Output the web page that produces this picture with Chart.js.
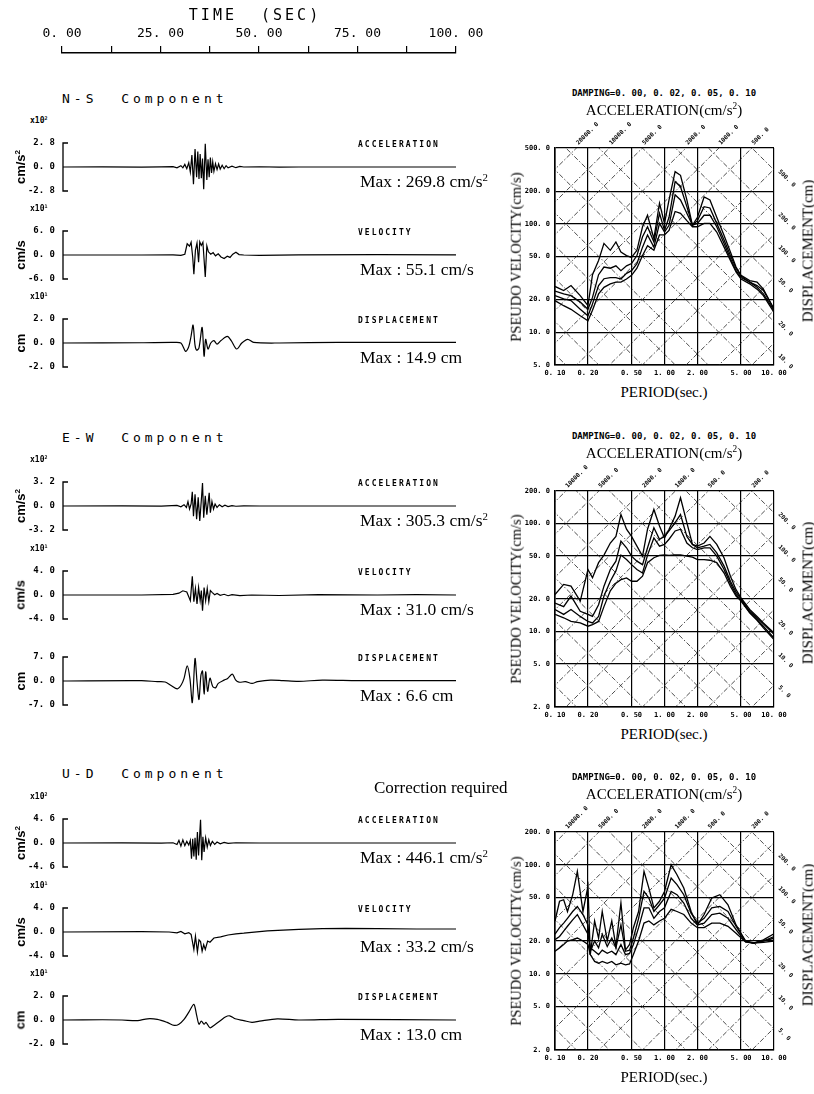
<!DOCTYPE html>
<html>
<head>
<meta charset="utf-8">
<title>Strong motion record</title>
<script src="https://cdn.jsdelivr.net/npm/chart.js@4.4.1/dist/chart.umd.min.js"></script>
<style>
  body { margin:0; width:814px; height:1094px; position:relative; overflow:hidden; background:#fff; color:#000; }
  canvas { position:absolute; }
  .t { position:absolute; white-space:nowrap; line-height:1; }
  .mono { font-family:"DejaVu Sans Mono", monospace; }
  .serif { font-family:"Liberation Serif", serif; }
  .sans { font-family:"Liberation Sans", sans-serif; font-weight:bold; }
  sup { font-size:0.62em; vertical-align:0.55em; line-height:0; }
</style>
</head>
<body>
<script>
// time axis ticks (sec)
const timeTicks = [0, 12.5, 25, 37.5, 50, 62.5, 75, 87.5, 100];

// time histories: [time (s), value in axis units]
const nsAcc = [[0,0],[10,0.02],[20,-0.02],[25,0.02],[28,0.05],[29,-0.1],[30,0.15],[30.5,-0.1],[31,0.3],[31.5,-0.2],[32,0.5],[32.4,-0.6],[32.8,1.4],[33.2,-2.0],[33.6,2.1],[34.0,-1.2],[34.3,1.8],[34.6,-1.4],[34.9,1.5],[35.2,-1.3],[35.5,1.0],[35.8,-2.6],[36.2,2.7],[36.6,-1.5],[36.9,0.9],[37.2,-1.2],[37.5,1.1],[37.8,-0.7],[38.1,0.6],[38.4,-0.5],[38.8,0.4],[39.2,-0.3],[39.6,0.35],[40,-0.25],[40.5,0.2],[41,-0.2],[41.5,0.15],[42,-0.1],[43,0.1],[44,-0.08],[45,0.06],[46,0],[50,0.03],[55,-0.02],[60,0],[100,0]];
const nsVel = [[0,0],[20,0],[28,0.05],[30,-0.1],[31,0.2],[31.6,2.8],[32.2,2.2],[32.6,3.2],[33.0,-0.5],[33.3,-4.8],[33.7,1.2],[34.1,3.0],[34.5,-1.8],[34.8,3.3],[35.2,2.4],[35.6,3.2],[36.2,-5.5],[36.6,2.3],[37.0,0.8],[37.6,0.2],[38.2,0.6],[38.8,-0.2],[39.5,0.3],[40.2,-0.5],[41,-0.9],[41.8,-0.3],[42.5,-0.6],[43.2,0.2],[44,0.7],[44.8,0.1],[46,0],[50,-0.1],[60,0.05],[80,0.1],[100,0.05]];
const nsDis = [[0,0],[20,0.02],[28,0.05],[30,0],[31.2,-0.7],[32.0,-0.3],[32.6,0.6],[33.1,1.49],[33.6,-0.2],[34.0,-0.6],[34.6,-0.4],[35.4,1.3],[35.9,-1.1],[36.3,0.3],[36.9,-0.5],[37.6,0],[38.4,0.2],[39.2,-0.1],[40.2,0.2],[41.8,0.55],[42.8,0.2],[44.2,-0.5],[45.5,0],[47,0.3],[48.5,0.05],[55,0],[70,0.05],[100,0.05]];

const ewAcc = [[0,0],[15,0.02],[25,-0.02],[29,0.07],[30,-0.1],[30.8,0.17],[31.4,-0.2],[31.8,0.6],[32.2,-0.4],[32.6,0.27],[32.9,1.9],[33.2,-1.35],[33.6,1.55],[34.0,-1.75],[34.4,1.15],[34.8,-2.0],[35.2,0.8],[35.5,3.05],[35.8,-1.55],[36.2,1.35],[36.6,-1.15],[37.0,0.8],[37.2,1.75],[37.5,-0.9],[37.9,0.6],[38.3,-0.4],[38.7,0.27],[39.2,-0.2],[39.8,0.17],[40.5,-0.1],[41.2,0.1],[42,-0.07],[43,0.05],[44,-0.03],[46,0.02],[50,0],[100,0]];
const ewVel = [[0,0],[20,0],[28,0.1],[29.5,0.3],[30.5,0.7],[31.5,0.5],[32.0,-0.3],[32.4,-0.95],[32.9,3.1],[33.3,-1.1],[33.7,1.1],[34.1,-1.5],[34.5,1.25],[34.9,-0.95],[35.2,0.75],[35.5,-2.6],[35.9,1.25],[36.3,-0.95],[36.7,1.1],[37.1,-1.1],[37.5,0.75],[38,0.4],[38.6,0.05],[39.2,0.25],[40,-0.05],[41,0.12],[42,-0.12],[43,0.05],[45,-0.1],[48,0],[55,-0.08],[65,0.05],[80,0],[90,0.05],[100,0]];
const ewDis = [[0,0],[20,0.1],[24,-0.2],[26,-0.3],[27.5,-1.3],[29.1,-2.3],[30.1,-1.1],[30.8,0.75],[31.6,4.4],[32.3,0.7],[32.9,-6.3],[33.6,6.6],[34.1,-0.2],[34.6,-5.4],[35.1,1.7],[35.5,2.9],[35.9,-3.8],[36.3,2.7],[36.8,-3.0],[37.4,0.85],[38.1,-1.6],[38.8,-2.0],[39.5,-0.7],[41,0.25],[41.9,0.75],[43.1,2.0],[43.9,0.35],[44.8,-0.35],[46.4,-0.2],[48.1,-0.7],[49.5,-0.2],[52.8,0.25],[56,0.1],[60,-0.1],[66,0.25],[75,0.1],[100,0.1]];

const udAcc = [[0,0],[15,0.02],[25,-0.03],[28,0.05],[29,-0.3],[29.5,0.5],[30,-0.6],[30.5,0.6],[31,-0.5],[31.5,0.3],[32,-0.4],[32.4,0.5],[32.7,-3.0],[33.0,0.8],[33.3,-2.6],[33.6,1.0],[33.9,-3.2],[34.2,2.1],[34.5,-2.4],[34.8,1.8],[35.0,4.46],[35.3,-3.3],[35.6,1.2],[35.9,-1.7],[36.3,1.0],[36.7,-0.8],[37.1,0.6],[37.5,-0.5],[38,0.3],[38.6,-0.25],[39.2,0.2],[40,-0.15],[41,0.1],[42,-0.08],[44,0.05],[50,0],[100,0]];
const udVel = [[0,0],[20,0.05],[27,0],[29,-0.15],[30,0.1],[31,-0.3],[32,-0.1],[32.6,-0.4],[33.3,-2.9],[33.7,-0.7],[34.2,-3.32],[34.6,-1.3],[35.0,-1.6],[35.4,-3.2],[35.8,-2.1],[36.2,-2.9],[36.8,-1.5],[37.4,-1.7],[38.4,-1.0],[40.1,-0.8],[42,-0.5],[44,-0.3],[46,-0.2],[48,-0.05],[52,0.2],[56,0.3],[60,0.45],[66,0.55],[72,0.6],[80,0.55],[90,0.5],[100,0.5]];
const udDis = [[0,0],[10,0.02],[15,0],[19,-0.05],[21.5,0.1],[24,0.05],[26.5,-0.2],[28.3,-0.45],[29.5,-0.35],[30.8,0.05],[32.1,0.7],[33.3,1.3],[34.0,0.4],[34.6,-0.35],[35.2,-0.1],[35.9,-0.35],[36.4,-0.2],[37.4,-0.65],[38.4,-0.45],[40.1,-0.05],[41.3,0.25],[42.4,0.35],[43.8,0.1],[46,-0.05],[48.1,-0.2],[50,-0.1],[54.5,0.1],[60,0],[70,0.05],[100,0]];

// response spectra (period s -> pseudo velocity cm/s), damping 0, 0.02, 0.05, 0.10
const periodTicks = [0.1, 0.2, 0.5, 1, 2, 5, 10];
const periodsH = [0.10,0.12,0.14,0.17,0.20,0.22,0.25,0.28,0.32,0.36,0.40,0.45,0.50,0.56,0.63,0.70,0.80,0.90,1.0,1.1,1.25,1.4,1.6,1.8,2.0,2.3,2.6,3.0,3.5,4.0,4.5,5.0,6.0,7.0,8.0,10.0];
const nsSv0  = [26.5,24.3,27,21.8,17.6,34,46,66,57,68,55,51,49,57,94,120,73,155,101,166,303,280,166,97,115,177,166,115,78,55,40,33.5,30,29,25,16.4];
const nsSv2  = [24,22.6,21.8,19,16.3,21,34,40,39,41,37,41,43,51,76,94,68,125,87,115,245,220,144,97,107,144,140,101,71,51,39,33,29,27,24.3,16.4];
const nsSv5  = [21.8,20.3,19.6,16.3,14.2,18.3,27,31.2,32,32,31,35,37,43,61,79,61,101,84,97,185,166,125,97,101,120,120,94,66,48,37,32,29,26,22.6,15.9];
const nsSv10 = [19.6,17.6,16.3,14.2,12.8,16,22.6,26,28,29,29,31,33.5,39,51,63,57,79,79,87,130,125,107,94,94,101,101,84,61,46,36,31,28,25,21.8,15.3];

const ewSv0  = [22,27.3,26.3,19.1,37.5,31.4,43.4,51,66,76,121,88.6,76,61.7,49.9,88.6,135,95,73.5,88.6,117,173,102,64,61.7,66,76,64,48,32.5,24.4,20.5,16,13.8,12,9.7];
const ewSv2  = [18.3,17,21.3,15.4,14.4,13.8,17.7,26.3,37.5,44.8,68.8,59.6,49.9,44.8,41.6,59.6,91.4,71.5,76,85.3,102,121,76,64,59.6,61.7,64,53.5,40.3,29.2,23.2,20.1,15.4,13.4,11.8,9.4];
const ewSv5  = [16,14.4,16,13.8,12.4,12,13.8,21.3,29.2,36.4,51,46.4,41.6,37.5,34.8,51,73.5,61.7,64,71.5,85.3,88.6,66,59.6,57.3,59.6,59.6,49.9,37.5,27.8,22,19.5,15,12.9,11.2,8.7];
const ewSv10 = [14.4,13.4,12.4,12,11.2,11.6,12.4,17,23.8,28,30.2,31.4,29.2,29.2,32.5,43.4,48.2,50.6,51.3,50.6,51.3,51.3,49.9,48.8,46.4,46.4,45.7,43.4,34.8,26.2,21.3,19.1,14.9,12.7,10.8,8.4];

const periodsV = [0.10,0.11,0.12,0.13,0.145,0.16,0.18,0.20,0.21,0.23,0.25,0.27,0.30,0.33,0.36,0.40,0.44,0.48,0.52,0.58,0.65,0.72,0.80,0.90,1.0,1.15,1.3,1.5,1.75,2.0,2.3,2.7,3.2,3.8,4.5,5.5,6.5,8.0,10.0];
const udSv0  = [30.5,46.3,47.8,37.3,53,87,37.3,63.3,15,30.5,21.2,37.3,20,30.5,17.8,44.6,16.5,18.6,26.5,37.3,87,61.2,40.3,46.3,57,100,81,61.2,37.3,28.1,35,49.5,53.2,43,28.1,20,19.1,20.5,23.3];
const udSv2  = [23.1,26.5,29.2,32.3,37.3,41.5,35,28.1,16.1,20,17.3,23.1,17.8,21.3,17.3,28.1,16.1,16.5,21.3,32.3,57,49.5,37.3,43,49.5,75.7,65.7,53.2,36,29.2,32.3,40.3,41.5,37.3,27.3,20,19.1,20,22];
const udSv5  = [20.6,22,24.6,27.3,31.3,35,28.1,23.1,17.3,16.1,15,16.5,15.4,16.1,15,18.6,15,15.4,18.6,26.5,40.3,40.3,32.3,37.3,40.3,57,53.2,44.6,32.3,28.1,29.2,35,36,32.3,25.5,19.6,19.1,20,21.2];
const udSv10 = [16.1,17.3,18.6,20,20.6,21.3,20,18.6,15,13,12.5,13,12.5,13,12.1,12.5,12.1,12.3,15,20,29.2,30.5,28.1,30.5,32.3,39,37.3,35,29.2,26.5,26.5,29.2,29.2,27.3,23.6,19.6,19.1,19.4,20];

const MONO = "'DejaVu Sans Mono', monospace";
function fmt(v, d) { return v.toFixed(d).replace('.', '. '); }

function label(html, x, y, cls, size, tf, extra) {
  const el = document.createElement('div');
  el.className = 't ' + cls;
  el.innerHTML = html;
  el.style.left = x + 'px';
  el.style.top = y + 'px';
  el.style.fontSize = size + 'px';
  el.style.transform = tf || 'translate(0,-50%)';
  if (extra) Object.assign(el.style, extra);
  document.body.appendChild(el);
}

function addCanvas(x, y, w, h) {
  const c = document.createElement('canvas');
  c.width = w; c.height = h;
  c.style.left = x + 'px'; c.style.top = y + 'px';
  document.body.appendChild(c);
  return c;
}

// ---- time axis on top
const tc = addCanvas(0, 0, 500, 60);
new Chart(tc, {
  type: 'line',
  data: { datasets: [] },
  options: {
    responsive: false, animation: false, events: [],
    layout: { padding: { left: 62, right: 44, top: 0, bottom: 0 } },
    plugins: { legend: { display: false }, tooltip: { enabled: false } },
    scales: {
      x: {
        type: 'linear', position: 'top', min: 0, max: 100,
        afterBuildTicks: s => { s.ticks = timeTicks.map(v => ({ value: v })); },
        afterFit: s => { s.height = 53; },
        grid: { drawOnChartArea: false, tickLength: 7, color: '#000', lineWidth: 1.2 },
        border: { color: '#000', width: 1.5 },
        ticks: { color: '#000', padding: 5, maxRotation: 0, autoSkip: false,
                 font: { family: MONO, size: 13 },
                 callback: v => v % 25 === 0 ? fmt(v, 2) : '' }
      },
      y: { display: false }
    }
  }
});
label('TIME&nbsp; (SEC)', 255, 15, 'mono', 15, 'translate(-50%,-50%)', { letterSpacing: '3px' });

// ---- seismograms
const bracket = {
  id: 'bracket',
  afterDraw(c) {
    const a = c.chartArea, ctx = c.ctx;
    ctx.save();
    ctx.strokeStyle = '#000'; ctx.lineWidth = 1.3;
    ctx.beginPath();
    ctx.moveTo(a.left + 5, a.top); ctx.lineTo(a.left, a.top);
    ctx.lineTo(a.left, a.bottom); ctx.lineTo(a.left + 5, a.bottom);
    ctx.stroke();
    ctx.restore();
  }
};

function trace(tr) {
  const m = tr.m, half = 24;
  const cv = addCanvas(0, tr.z - half - 10, 462, 2 * half + 20);
  new Chart(cv, {
    type: 'line',
    data: { datasets: [{ data: tr.d.map(p => ({ x: p[0], y: p[1] })), borderColor: '#000',
                         borderWidth: 1.2, pointRadius: 0, tension: tr.smooth ? 0.3 : 0, clip: false }] },
    options: {
      responsive: false, animation: false, events: [],
      layout: { padding: { top: 10, bottom: 10, left: 0, right: 6 } },
      plugins: { legend: { display: false }, tooltip: { enabled: false } },
      scales: {
        x: { type: 'linear', min: 0, max: 100, display: false },
        y: {
          min: -m, max: m,
          afterBuildTicks: s => { s.ticks = [-m, 0, m].map(v => ({ value: v })); },
          afterFit: s => { s.width = 63; },
          grid: { display: false }, border: { display: false },
          ticks: { color: '#000', padding: 0, font: { family: MONO, size: 9, weight: 'bold' },
                   callback: v => fmt(v, 1) }
        }
      }
    },
    plugins: [bracket]
  });
}

const comps = [
  { title: 'N-S&nbsp; Component', ty: 98, traces: [
    { d: nsAcc, m: 2.8, z: 167, e: 2, u: 'cm/s<sup>2</sup>', n: 'ACCELERATION', mx: 'Max : 269.8 cm/s<sup>2</sup>' },
    { d: nsVel, m: 6.0, z: 255, e: 1, u: 'cm/s', n: 'VELOCITY', mx: 'Max : 55.1 cm/s' },
    { d: nsDis, m: 2.0, z: 343, e: 1, u: 'cm', n: 'DISPLACEMENT', mx: 'Max : 14.9 cm', smooth: true } ] },
  { title: 'E-W&nbsp; Component', ty: 437, traces: [
    { d: ewAcc, m: 3.2, z: 506, e: 2, u: 'cm/s<sup>2</sup>', n: 'ACCELERATION', mx: 'Max : 305.3 cm/s<sup>2</sup>' },
    { d: ewVel, m: 4.0, z: 595, e: 1, u: 'cm/s', n: 'VELOCITY', mx: 'Max : 31.0 cm/s' },
    { d: ewDis, m: 7.0, z: 681, e: 0, u: 'cm', n: 'DISPLACEMENT', mx: 'Max : 6.6 cm', smooth: true } ] },
  { title: 'U-D&nbsp; Component', ty: 773, traces: [
    { d: udAcc, m: 4.6, z: 843, e: 2, u: 'cm/s<sup>2</sup>', n: 'ACCELERATION', mx: 'Max : 446.1 cm/s<sup>2</sup>' },
    { d: udVel, m: 4.0, z: 932, e: 1, u: 'cm/s', n: 'VELOCITY', mx: 'Max : 33.2 cm/s' },
    { d: udDis, m: 2.0, z: 1020, e: 1, u: 'cm', n: 'DISPLACEMENT', mx: 'Max : 13.0 cm', smooth: true } ] }
];

comps.forEach(cp => {
  label(cp.title, 62, cp.ty, 'mono', 13, null, { letterSpacing: '4px' });
  cp.traces.forEach(tr => {
    trace(tr);
    if (tr.e) label('x10<sup>' + tr.e + '</sup>', 30, tr.z - 46, 'mono', 8, null, { fontWeight: 'bold' });
    label(tr.u, 20, tr.z, 'sans', 13, 'translate(-50%,-50%) rotate(-90deg)');
    label(tr.n, 358, tr.z - 22, 'mono', 8, null, { fontWeight: 'bold', letterSpacing: '2px' });
    label(tr.mx, 360, tr.z + 15, 'serif', 17.5);
  });
});
label('Correction required', 374, 787, 'serif', 17);

// ---- tripartite spectra
const deco = {
  id: 'deco',
  beforeDatasetsDraw(c) {
    const { ctx, chartArea: a, scales: { x, y } } = c;
    const tw = 2 * Math.PI;
    ctx.save();
    ctx.beginPath(); ctx.rect(a.left, a.top, a.right - a.left, a.bottom - a.top); ctx.clip();
    ctx.strokeStyle = '#222'; ctx.lineWidth = 0.8; ctx.setLineDash([5, 2, 1.5, 2]);
    const seg = (t1, v1, t2, v2) => {
      ctx.beginPath();
      ctx.moveTo(x.getPixelForValue(t1), y.getPixelForValue(v1));
      ctx.lineTo(x.getPixelForValue(t2), y.getPixelForValue(v2));
      ctx.stroke();
    };
    for (let e = -2; e <= 5; e++) for (const s of [1, 2, 5]) {
      const k = s * Math.pow(10, e);
      seg(0.05, k * 0.05 / tw, 20, k * 20 / tw);   // constant acceleration
      seg(0.05, tw * k / 0.05, 20, tw * k / 20);   // constant displacement
    }
    ctx.restore();
  },
  afterDraw(c, args, o) {
    const { ctx, chartArea: a, scales: { x, y } } = c;
    const tw = 2 * Math.PI;
    ctx.save();
    ctx.fillStyle = '#000'; ctx.font = 'bold 6px ' + MONO;
    o.acc.forEach(A => {
      const px = x.getPixelForValue(tw * y.max / A);
      ctx.save(); ctx.translate(px + 2, a.top - 3); ctx.rotate(-Math.PI / 4);
      ctx.fillText(fmt(A, 1), 0, 0); ctx.restore();
    });
    o.dis.forEach(D => {
      const py = y.getPixelForValue(tw * D / x.max);
      ctx.save(); ctx.translate(a.right + 4, py + 2); ctx.rotate(Math.PI / 4);
      ctx.fillText(fmt(D, 1), 0, 0); ctx.restore();
    });
    ctx.restore();
  }
};

function spectrum(s) {
  const cv = addCanvas(500, s.top - 30, 314, 30 + (s.bot - s.top) + 14);
  const axisFont = { family: MONO, size: 7, weight: 'bold' };
  new Chart(cv, {
    type: 'line',
    data: { datasets: s.curves.map(cu => ({
      data: s.per.map((t, i) => ({ x: t, y: cu[i] })),
      borderColor: '#000', borderWidth: 1.3, pointRadius: 0, tension: 0 })) },
    options: {
      responsive: false, animation: false, events: [],
      layout: { padding: { top: 30, right: 40, left: 0, bottom: 0 } },
      plugins: { legend: { display: false }, tooltip: { enabled: false }, deco: { acc: s.acc, dis: s.dis } },
      scales: {
        x: {
          type: 'logarithmic', min: 0.1, max: 10,
          afterBuildTicks: sc => { sc.ticks = periodTicks.map(v => ({ value: v })); },
          afterFit: sc => { sc.height = 14; },
          grid: { color: '#000', lineWidth: 1.2, drawTicks: false },
          border: { color: '#000', width: 1.6 },
          ticks: { color: '#000', padding: 4, autoSkip: false, maxRotation: 0, font: axisFont,
                   callback: v => fmt(v, 2) }
        },
        y: {
          type: 'logarithmic', min: s.vmin, max: s.vmax,
          afterBuildTicks: sc => { sc.ticks = s.yt.map(v => ({ value: v })); },
          afterFit: sc => { sc.width = 55; },
          grid: { color: '#000', lineWidth: 1.2, drawTicks: false },
          border: { color: '#000', width: 1.6 },
          ticks: { color: '#000', padding: 5, autoSkip: false, font: axisFont,
                   callback: v => fmt(v, 1) }
        }
      }
    },
    plugins: [deco]
  });
  const cx = 664, mid = (s.top + s.bot) / 2;
  label('DAMPING=0. 00, 0. 02, 0. 05, 0. 10', cx, s.top - 55, 'mono', 9, 'translate(-50%,-50%)', { fontWeight: 'bold' });
  label('ACCELERATION(cm/s<sup>2</sup>)', cx, s.top - 38, 'serif', 15, 'translate(-50%,-50%)');
  label('PERIOD(sec.)', cx, s.bot + 27, 'serif', 15, 'translate(-50%,-50%)');
  label('PSEUDO VELOCITY(cm/s)', 516, mid, 'serif', 14.5, 'translate(-50%,-50%) rotate(-90deg)');
  label('DISPLACEMENT(cm)', 808, mid - 6, 'serif', 15, 'translate(-50%,-50%) rotate(-90deg)');
}

spectrum({ top: 148, bot: 365, vmin: 5, vmax: 500, yt: [5, 10, 20, 50, 100, 200, 500],
  per: periodsH, curves: [nsSv0, nsSv2, nsSv5, nsSv10],
  acc: [20000, 10000, 5000, 2000, 1000, 500], dis: [500, 200, 100, 50, 20, 10] });
spectrum({ top: 491, bot: 707, vmin: 2, vmax: 200, yt: [2, 5, 10, 20, 50, 100, 200],
  per: periodsH, curves: [ewSv0, ewSv2, ewSv5, ewSv10],
  acc: [10000, 5000, 2000, 1000, 500, 200], dis: [200, 100, 50, 20, 10, 5] });
spectrum({ top: 832, bot: 1050, vmin: 2, vmax: 200, yt: [2, 5, 10, 20, 50, 100, 200],
  per: periodsV, curves: [udSv0, udSv2, udSv5, udSv10],
  acc: [10000, 5000, 2000, 1000, 500, 200], dis: [200, 100, 50, 20, 10, 5] });
</script>
</body>
</html>
